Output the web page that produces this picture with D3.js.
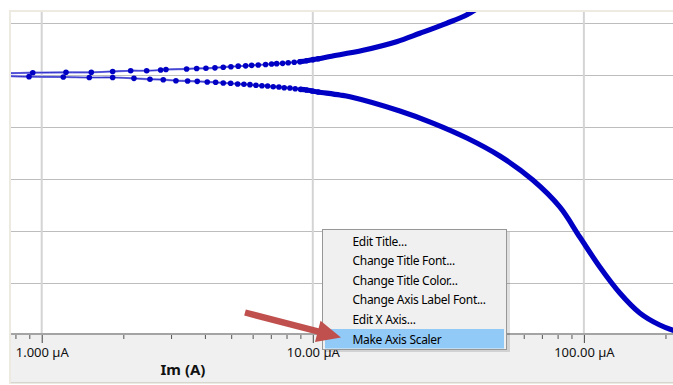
<!DOCTYPE html>
<html><head><meta charset="utf-8">
<script src="https://cdn.jsdelivr.net/npm/d3@7"></script>
<style>body{margin:0;background:#fff;}svg{display:block;font-family:"Noto Sans","Open Sans",sans-serif;}</style>
</head><body>
<svg id="chart" width="673" height="385"></svg>
<script>
// ---- data (current in µA, potential in V) ----
const xDomainUA = [0.7704, 213.2];
const yDomainV = [-0.33942, -0.64904];
const currentTicksUA = [1, 10, 100];
const currentTickLabels = ["1.000 µA", "10.00 µA", "100.00 µA"];
const potentialGridV = [-0.35, -0.40, -0.45, -0.50, -0.55, -0.60];
const xAxisTitle = "Im (A)";

const anodicLeadI = [0.70];
const anodicLeadE = [-0.3985];
const anodicDotsI = [0.927,1.229,1.524,1.827,2.129,2.439,2.746,2.873,3.424,3.729,4.035,4.356,4.674,4.989,5.308,5.653,5.949,6.292,6.698,7.047,7.357,7.739,8.116,8.540,8.964,9.487,10.03,10.47];
const anodicDotsE = [-0.3978,-0.3974,-0.3974,-0.3966,-0.3959,-0.3959,-0.3952,-0.3947,-0.3942,-0.3937,-0.3935,-0.3931,-0.3925,-0.3920,-0.3915,-0.3912,-0.3907,-0.3904,-0.3899,-0.3894,-0.3891,-0.3888,-0.3882,-0.3878,-0.3872,-0.3863,-0.3852,-0.3844];
const anodicTailI = [11.56,15.34,20.37,24.83,31.14,36.91,40.63];
const anodicTailE = [-0.3822,-0.3762,-0.3680,-0.3599,-0.3503,-0.3423,-0.3356];

const cathodicLeadI = [0.70];
const cathodicLeadE = [-0.4008];
const cathodicDotsI = [0.898,1.201,1.498,1.827,2.189,2.508,2.808,3.127,3.453,3.748,4.080,4.382,4.674,4.977,5.282,5.571,5.864,6.170,6.492,6.812,7.145,7.499,7.845,8.235,8.613,9.018,9.487,9.949,10.47];
const cathodicDotsE = [-0.4016,-0.4019,-0.4024,-0.4024,-0.4032,-0.4041,-0.4045,-0.4055,-0.4058,-0.4061,-0.4067,-0.4070,-0.4077,-0.4080,-0.4087,-0.4089,-0.4093,-0.4099,-0.4103,-0.4106,-0.4113,-0.4115,-0.4122,-0.4125,-0.4132,-0.4138,-0.4144,-0.4154,-0.4163];
const cathodicTailI = [12.59,13.71,20.95,27.72,37.01,48.97,64.80,81.49,96.58,114.5,135.7,160.7,190.5,222.0];
const cathodicTailE = [-0.4192,-0.4209,-0.4346,-0.4462,-0.4606,-0.4779,-0.5010,-0.5269,-0.5558,-0.5846,-0.6096,-0.6288,-0.6404,-0.6471];

const menuItems = ["Edit Title...", "Change Title Font...", "Change Title Color...", "Change Axis Label Font...", "Edit X Axis...", "Make Axis Scaler"];
const menuHighlighted = 5;

// ---- layout ----
const svg = d3.select("#chart");
const plot = {left: 11, top: 12, right: 673, bottom: 334};
const x = d3.scaleLog().domain(xDomainUA).range([plot.left, plot.right]);
const y = d3.scaleLinear().domain(yDomainV).range([plot.top, plot.bottom]);

// frame
svg.append("rect").attr("x", 9).attr("y", 10).attr("width", 664).attr("height", 374).attr("fill", "#edebe1");
svg.append("rect").attr("x", plot.left).attr("y", plot.top).attr("width", plot.right - plot.left).attr("height", plot.bottom - plot.top).attr("fill", "#fff");
svg.append("rect").attr("x", plot.left).attr("y", plot.bottom).attr("width", plot.right - plot.left).attr("height", 48).attr("fill", "#f0f0f0");
svg.append("line").attr("x1", plot.left).attr("x2", plot.right).attr("y1", 382.5).attr("y2", 382.5).attr("stroke", "#d6d6d0");

// grid
svg.append("g").selectAll("line").data(potentialGridV).join("line")
  .attr("x1", plot.left).attr("x2", plot.right)
  .attr("y1", d => Math.round(y(d)) + 0.5).attr("y2", d => Math.round(y(d)) + 0.5)
  .attr("stroke", "#bdbdbd").attr("stroke-width", 1);
svg.append("g").selectAll("line").data(currentTicksUA).join("line")
  .attr("x1", d => x(d)).attr("x2", d => x(d))
  .attr("y1", plot.top).attr("y2", plot.bottom)
  .attr("stroke", "#d4d4d4").attr("stroke-width", 2);

// axis ticks
const minorTicks = [];
[0.1, 1, 10, 100].forEach(dec => { for (let m = 1; m <= 9; m++) { const v = dec * m; if (v >= xDomainUA[0] && v <= xDomainUA[1] && !currentTicksUA.includes(+v.toFixed(6))) minorTicks.push(v); } });
const minorAxis = d3.axisBottom(x).tickValues(minorTicks).tickSize(4).tickFormat("");
const gMinor = svg.append("g").attr("transform", `translate(0,${plot.bottom + 1})`).call(minorAxis);
gMinor.select(".domain").remove();
gMinor.selectAll(".tick line").attr("stroke", "#555");
const majorAxis = d3.axisBottom(x).tickValues(currentTicksUA).tickSize(8)
  .tickFormat((d, i) => currentTickLabels[i]).tickPadding(5);
const gMajor = svg.append("g").attr("transform", `translate(0,${plot.bottom + 1})`).call(majorAxis);
gMajor.select(".domain").remove();
gMajor.selectAll(".tick line").attr("stroke", "#444");
gMajor.selectAll(".tick text").attr("font-family", "Noto Sans").attr("font-size", 13).attr("fill", "#111").attr("dy", null).attr("y", 22);
svg.append("line").attr("x1", plot.left).attr("x2", plot.right).attr("y1", plot.bottom).attr("y2", plot.bottom)
  .attr("stroke", "#a4a4a4").attr("stroke-width", 2);

svg.append("text").attr("x", 183).attr("y", 375).attr("text-anchor", "middle")
  .attr("font-size", 15).attr("font-weight", "bold").attr("fill", "#111").text(xAxisTitle);

// data
svg.append("clipPath").attr("id", "clip").append("rect")
  .attr("x", plot.left).attr("y", plot.top).attr("width", plot.right - plot.left).attr("height", plot.bottom - plot.top);
const dataG = svg.append("g").attr("clip-path", "url(#clip)");
const zip = (I, E) => I.map((v, i) => [v, E[i]]);
const line = d3.line().x(d => x(d[0])).y(d => y(d[1])).curve(d3.curveCatmullRom);
const color = "#0000c4";
const branches = [
  {lead: zip(anodicLeadI, anodicLeadE), dots: zip(anodicDotsI, anodicDotsE), tail: zip(anodicTailI, anodicTailE)},
  {lead: zip(cathodicLeadI, cathodicLeadE), dots: zip(cathodicDotsI, cathodicDotsE), tail: zip(cathodicTailI, cathodicTailE)}
];
branches.forEach(b => {
  const all = b.lead.concat(b.dots, b.tail);
  dataG.append("path").attr("d", line(all)).attr("fill", "none").attr("stroke", "#7c7ce4").attr("stroke-width", 2.2);
  dataG.append("path").attr("d", line(all)).attr("fill", "none").attr("stroke", "#2a2ac8").attr("stroke-width", 0.9);
  dataG.selectAll(null).data(b.dots).join("circle")
    .attr("cx", d => x(d[0])).attr("cy", d => y(d[1])).attr("r", 2.8).attr("fill", color);
  const thick = b.dots.slice(-4).concat(b.tail);
  dataG.append("path").attr("d", line(thick)).attr("fill", "none").attr("stroke", color).attr("stroke-width", 5.2).attr("stroke-linecap", "round");
});

// context menu
const menu = svg.append("g");
menu.append("rect").attr("x", 325).attr("y", 232).attr("width", 185).attr("height", 120).attr("fill", "#000").attr("opacity", 0.12);
menu.append("rect").attr("x", 322.5).attr("y", 229.5).attr("width", 184).attr("height", 120).attr("fill", "#f0f0f0").attr("stroke", "#979797");
menu.append("rect").attr("x", 325).attr("y", 329).attr("width", 179).attr("height", 19.5).attr("fill", "#91c9f7");
menu.selectAll("text").data(menuItems).join("text")
  .attr("x", 352.5).attr("y", (d, i) => 245.5 + 19.6 * i)
  .attr("font-size", 12).attr("letter-spacing", -0.3).attr("fill", "#000").text(d => d);

// arrow
const S = [245, 312.5], T = [341, 337.5];
const len = Math.hypot(T[0] - S[0], T[1] - S[1]);
const dx = (T[0] - S[0]) / len, dy = (T[1] - S[1]) / len, nx = -dy, ny = dx;
const B = [T[0] - 24 * dx, T[1] - 24 * dy];
const pt = (p, k) => [p[0] + k * nx, p[1] + k * ny];
const poly = [pt(S, 3.2), pt(B, 3.2), pt(B, 11), T, pt(B, -11), pt(B, -3.2), pt(S, -3.2)];
svg.append("polygon").attr("points", poly.map(p => p.join(",")).join(" ")).attr("fill", "#c0504d");
</script>
</body></html>
